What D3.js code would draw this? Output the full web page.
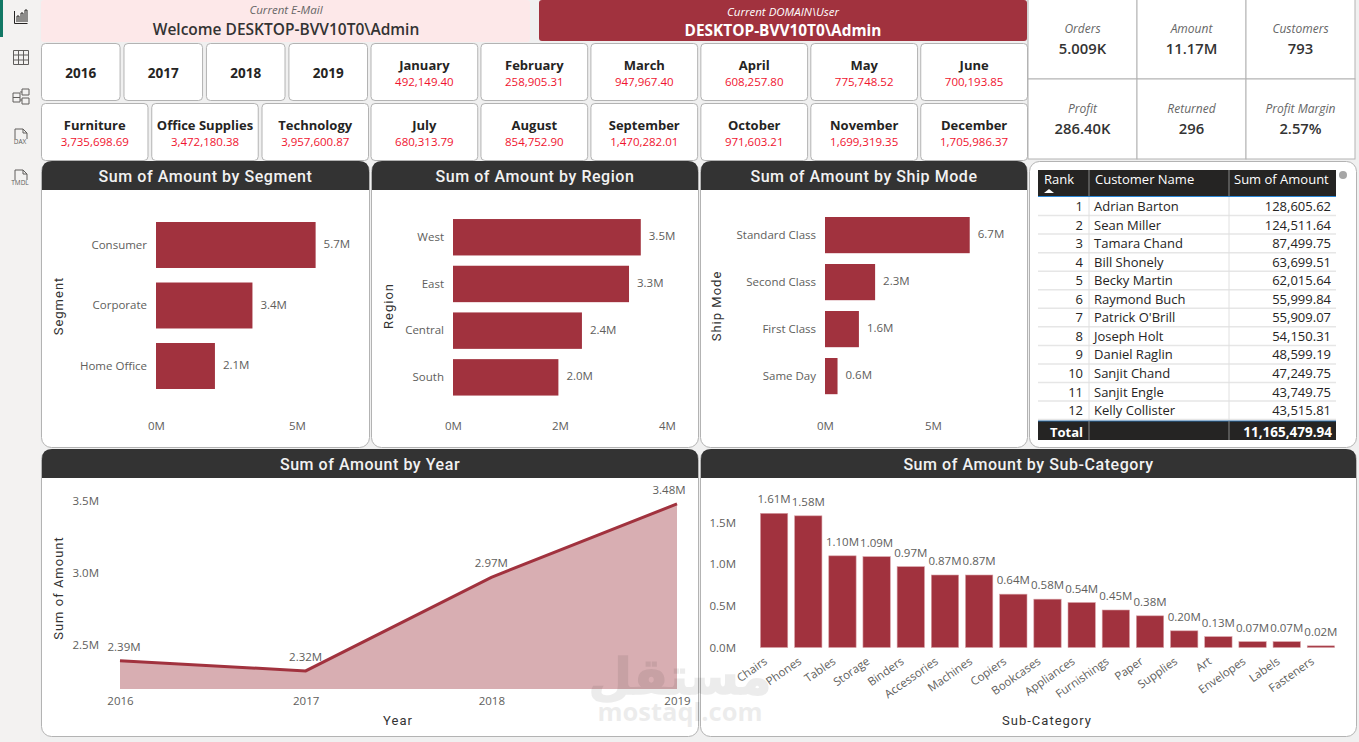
<!DOCTYPE html>
<html>
<head>
<meta charset="utf-8">
<script src="https://cdn.jsdelivr.net/npm/d3@7"></script>
<style>
  html, body { margin: 0; padding: 0; background: #f0f0f0; overflow: hidden; }
  text { font-family: "Open Sans", sans-serif; }
  .title { font-family: Roboto, sans-serif; font-weight: 500; letter-spacing: .55px; }
  .axis-title { font-family: Roboto, sans-serif; font-weight: 400; letter-spacing: 1px; }
</style>
</head>
<body>
<div id="viz"></div>
<script>
const years = ["2016", "2017", "2018", "2019"];
const categories = ["Furniture", "Office Supplies", "Technology"];
const categoryAmounts = ["3,735,698.69", "3,472,180.38", "3,957,600.87"];
const months = ["January", "February", "March", "April", "May", "June", "July", "August", "September", "October", "November", "December"];
const monthAmounts = ["492,149.40", "258,905.31", "947,967.40", "608,257.80", "775,748.52", "700,193.85", "680,313.79", "854,752.90", "1,470,282.01", "971,603.21", "1,699,319.35", "1,705,986.37"];
const kpiLabels = ["Orders", "Amount", "Customers", "Profit", "Returned", "Profit Margin"];
const kpiValues = ["5.009K", "11.17M", "793", "286.40K", "296", "2.57%"];

const segments = ["Consumer", "Corporate", "Home Office"];
const segmentValues = [5.66, 3.42, 2.09];
const regions = ["West", "East", "Central", "South"];
const regionValues = [3.51, 3.29, 2.41, 1.97];
const shipModes = ["Standard Class", "Second Class", "First Class", "Same Day"];
const shipValues = [6.7, 2.32, 1.57, 0.58];

const yearValues = [2.39, 2.32, 2.97, 3.48];
const subCategories = ["Chairs", "Phones", "Tables", "Storage", "Binders", "Accessories", "Machines", "Copiers", "Bookcases", "Appliances", "Furnishings", "Paper", "Supplies", "Art", "Envelopes", "Labels", "Fasteners"];
const subValues = [1.61, 1.58, 1.10, 1.09, 0.97, 0.87, 0.87, 0.64, 0.58, 0.54, 0.45, 0.38, 0.20, 0.13, 0.07, 0.07, 0.02];

const ranks = [1, 2, 3, 4, 5, 6, 7, 8, 9, 10, 11, 12];
const customers = ["Adrian Barton", "Sean Miller", "Tamara Chand", "Bill Shonely", "Becky Martin", "Raymond Buch", "Patrick O'Brill", "Joseph Holt", "Daniel Raglin", "Sanjit Chand", "Sanjit Engle", "Kelly Collister"];
const customerAmounts = ["128,605.62", "124,511.64", "87,499.75", "63,699.51", "62,015.64", "55,999.84", "55,909.07", "54,150.31", "48,599.19", "47,249.75", "43,749.75", "43,515.81"];
const tableTotal = "11,165,479.94";

const RED = "#a1323e", DARK = "#333333", GREY = "#605e5c", BORDER = "#b3b3b3";

const svg = d3.select("#viz").append("svg").attr("width", 1359).attr("height", 742);

// left rail
svg.append("rect").attr("width", 40).attr("height", 742).attr("fill", "#f3f2f1");
svg.append("rect").attr("width", 3).attr("height", 37).attr("fill", "#117865");
drawRailIcons();

// banner
svg.append("rect").attr("x", 41).attr("y", 0).attr("width", 489).attr("height", 42).attr("rx", 3).attr("fill", "#fde8e9");
svg.append("rect").attr("x", 539).attr("y", 0).attr("width", 488).attr("height", 41).attr("rx", 3).attr("fill", RED);
label(286, 14, "Current E-Mail", 11.5, "#666", "middle").attr("font-style", "italic");
label(286, 35, "Welcome DESKTOP-BVV10T0\\Admin", 15.5, "#333", "middle").attr("font-weight", 600);
label(783, 16, "Current DOMAIN\\User", 11.5, "#fff", "middle").attr("font-style", "italic");
label(783, 36, "DESKTOP-BVV10T0\\Admin", 15.4, "#fff", "middle").attr("font-weight", 700);

// slicer buttons
const yearX = d3.scaleBand().domain(years).range([41, 368]).paddingInner(0.035);
years.forEach(y => button(yearX(y), 43, yearX.bandwidth(), 58, y));
const catX = d3.scaleBand().domain(categories).range([41, 369]).paddingInner(0.025);
categories.forEach((c, i) => button(catX(c), 103, catX.bandwidth(), 58, c, categoryAmounts[i]));
const monthX = d3.scaleBand().domain(d3.range(6)).range([370.5, 1028]).paddingInner(0.02);
months.forEach((m, i) => button(monthX(i % 6), i < 6 ? 43 : 103, monthX.bandwidth(), 58, m, monthAmounts[i]));

// KPI cards
const kpiX = d3.scaleBand().domain(d3.range(3)).range([1028, 1355]);
kpiLabels.forEach((k, i) => {
  const x = kpiX(i % 3), y = i < 3 ? -1 : 79;
  svg.append("rect").attr("x", x).attr("y", y).attr("width", kpiX.bandwidth()).attr("height", 80)
    .attr("fill", "#fff").attr("stroke", BORDER);
  label(x + kpiX.bandwidth() / 2, y + 34, k, 12, "#666", "middle").attr("font-style", "italic");
  label(x + kpiX.bandwidth() / 2, y + 55, kpiValues[i], 14.8, "#333", "middle").attr("font-weight", 600);
});

// charts
hBars(41, 329, "Sum of Amount by Segment", "Segment", segments, segmentValues, d3.scaleLinear().domain([0, 5]).range([156, 297]), [0, 5], [214.75, 396.25], 59, 0.24);
hBars(371, 328, "Sum of Amount by Region", "Region", regions, regionValues, d3.scaleLinear().domain([0, 4]).range([453, 667]), [0, 2, 4], [213.9, 400.7], 389, 0.22);
hBars(700, 328, "Sum of Amount by Ship Mode", "Ship Mode", shipModes, shipValues, d3.scaleLinear().domain([0, 5]).range([825, 933]), [0, 5], [211.6, 399.6], 717, 0.23);
yearChart();
subChart();
customerTable();

// watermark
svg.append("text").attr("x", 680).attr("y", 694).attr("text-anchor", "middle")
  .style("font-family", "'DejaVu Sans'").attr("font-size", 50).attr("font-weight", 700)
  .attr("fill", "#000").attr("stroke", "#000").attr("stroke-width", 1.5).attr("opacity", 0.07).text("مستقل");
svg.append("text").attr("x", 680).attr("y", 721).attr("text-anchor", "middle")
  .style("font-family", "'Open Sans'").attr("font-size", 25.5).attr("font-weight", 700)
  .attr("fill", "#000").attr("opacity", 0.07).text("mostaql.com");

function label(x, y, t, size, fill, anchor) {
  return svg.append("text").attr("x", x).attr("y", y).attr("font-size", size)
    .attr("fill", fill).attr("text-anchor", anchor || "start").text(t);
}

function button(x, y, w, h, name, amount) {
  svg.append("rect").attr("x", x + .5).attr("y", y + .5).attr("width", w - 1).attr("height", h - 1)
    .attr("rx", 4).attr("fill", "#fff").attr("stroke", BORDER);
  const cx = x + w / 2;
  if (amount) {
    label(cx, y + 26.5, name, 13, "#252423", "middle").attr("font-weight", 700);
    label(cx, y + 43, amount, 11.5, "#f0142f", "middle");
  } else {
    label(cx, y + 35, name, 13.5, "#252423", "middle").attr("font-weight", 700);
  }
}

function panel(x, y, w, h, title) {
  svg.append("rect").attr("x", x + .5).attr("y", y + .5).attr("width", w - 1).attr("height", h - 1)
    .attr("rx", 10).attr("fill", "#fff").attr("stroke", BORDER);
  if (title) {
    svg.append("path").attr("fill", DARK)
      .attr("d", `M${x + 1},${y + 29}V${y + 10}Q${x + 1},${y} ${x + 11},${y}H${x + w - 11}Q${x + w - 1},${y} ${x + w - 1},${y + 10}V${y + 29}Z`);
    label(x + w / 2, y + 21, title, 16, "#f2f2f2", "middle").attr("class", "title");
  }
}

function axisTitle(x, y, t, rotate) {
  const s = label(x, y, t, 13, "#333", "middle").attr("class", "axis-title");
  if (rotate) s.attr("transform", `rotate(-90 ${x} ${y})`);
  return s;
}

function cleanAxis(g) {
  g.select(".domain").remove();
  g.selectAll(".tick line").remove();
  g.selectAll("text").attr("fill", GREY).attr("font-size", 11.5).style("font-family", "'Open Sans'");
}

function hBars(px, pw, title, yTitle, names, values, x, ticks, yRange, titleX, pad) {
  panel(px, 161, pw, 287, title);
  const y = d3.scaleBand().domain(names).range(yRange).paddingInner(pad).paddingOuter(pad / 2);
  const g = svg.append("g");
  g.selectAll("rect").data(values).enter().append("rect")
    .attr("x", x(0)).attr("y", (d, i) => y(names[i]))
    .attr("width", d => x(d) - x(0)).attr("height", y.bandwidth()).attr("fill", RED);
  g.selectAll("text").data(values).enter().append("text")
    .attr("x", d => x(d) + 8).attr("y", (d, i) => y(names[i]) + y.bandwidth() / 2 + 3)
    .attr("font-size", 11.5).attr("fill", GREY).text(d => d3.format(".1f")(d) + "M");
  svg.append("g").attr("transform", `translate(${x(0) - 9},0)`)
    .call(d3.axisLeft(y).tickSize(0).tickPadding(0)).call(cleanAxis);
  svg.append("g").attr("transform", "translate(0,419)")
    .call(d3.axisBottom(x).tickValues(ticks).tickSize(0).tickFormat(d => d + "M")).call(cleanAxis);
  axisTitle(titleX + 4, 306, yTitle, true);
}

function yearChart() {
  panel(41, 449, 658, 288, "Sum of Amount by Year");
  const x = d3.scalePoint().domain(years).range([120, 677]);
  const y = d3.scaleLinear().domain([2.5, 3.5]).range([645, 501]);
  const base = 689;
  svg.append("path").datum(yearValues).attr("fill", "#d8aeb2")
    .attr("d", d3.area().x((d, i) => x(years[i])).y0(base).y1(d => y(d)));
  svg.append("path").datum(yearValues).attr("fill", "none").attr("stroke", RED).attr("stroke-width", 3)
    .attr("d", d3.line().x((d, i) => x(years[i])).y(d => y(d)));
  svg.selectAll(".yl").data(yearValues).enter().append("text").attr("class", "yl")
    .attr("x", (d, i) => x(years[i]) + (i === 3 ? -8 : i === 0 ? 4 : 0)).attr("y", d => y(d) - 10)
    .attr("text-anchor", "middle").attr("font-size", 11.5).attr("fill", GREY)
    .text(d => d3.format(".2f")(d) + "M");
  svg.append("g").attr("transform", "translate(99,0)")
    .call(d3.axisLeft(y).tickValues([2.5, 3, 3.5]).tickSize(0).tickPadding(0).tickFormat(d => d3.format(".1f")(d) + "M")).call(cleanAxis);
  svg.append("g").attr("transform", "translate(0,695)")
    .call(d3.axisBottom(x).tickSize(0).tickPadding(2)).call(cleanAxis);
  axisTitle(398, 725, "Year");
  axisTitle(63, 588, "Sum of Amount", true);
}

function subChart() {
  panel(700, 449, 657, 288, "Sum of Amount by Sub-Category");
  const x = d3.scaleBand().domain(subCategories).range([757, 1338]).paddingInner(0.2).paddingOuter(0.1);
  const y = d3.scaleLinear().domain([0, 1.5]).range([647.5, 522.5]);
  svg.selectAll(".sb").data(subValues).enter().append("rect").attr("class", "sb")
    .attr("x", (d, i) => x(subCategories[i])).attr("y", d => y(d))
    .attr("width", x.bandwidth()).attr("height", d => y(0) - y(d))
    .attr("fill", RED).attr("stroke", "#d8a0a6").attr("stroke-width", .6);
  svg.selectAll(".sl").data(subValues).enter().append("text").attr("class", "sl")
    .attr("x", (d, i) => x(subCategories[i]) + x.bandwidth() / 2).attr("y", d => y(d) - 10)
    .attr("text-anchor", "middle").attr("font-size", 11.5).attr("fill", GREY)
    .text(d => d3.format(".2f")(d) + "M");
  svg.append("g").attr("transform", "translate(736,0)")
    .call(d3.axisLeft(y).tickValues([0, 0.5, 1, 1.5]).tickSize(0).tickPadding(0).tickFormat(d => d3.format(".1f")(d) + "M")).call(cleanAxis);
  svg.append("g").selectAll("text").data(subCategories).enter().append("text")
    .attr("transform", d => `translate(${x(d) + x.bandwidth() / 2 - 6},${663}) rotate(-35)`)
    .attr("text-anchor", "end").attr("font-size", 11.5).attr("fill", GREY).text(d => d);
  axisTitle(1047, 725, "Sub-Category");
}

function customerTable() {
  panel(1029, 161, 328, 287);
  const cols = [1038, 1089, 1229, 1336];
  svg.append("rect").attr("x", 1038).attr("y", 170).attr("width", 298).attr("height", 26).attr("fill", "#252423");
  svg.append("rect").attr("x", 1038).attr("y", 196).attr("width", 298).attr("height", 1).attr("fill", "#2b88d8");
  label(1044, 184, "Rank", 13, "#fff");
  svg.append("path").attr("d", "M1044,193l5,-4l5,4z").attr("fill", "#fff");
  label(1095, 184, "Customer Name", 13, "#fff");
  label(1234, 184, "Sum of Amount", 13, "#fff");
  const rowY = d3.scaleBand().domain(ranks).range([197, 419.6]);
  ranks.forEach((r, i) => {
    const top = rowY(r);
    svg.append("line").attr("x1", 1038).attr("x2", 1336).attr("y1", top + rowY.bandwidth()).attr("y2", top + rowY.bandwidth())
      .attr("stroke", "#e6e6e6").attr("stroke-width", 1.5);
    label(1083, top + 14, r, 13, "#252423", "end");
    label(1094, top + 14, customers[i], 13, "#252423");
    label(1331, top + 14, customerAmounts[i], 13, "#252423", "end");
  });
  cols.slice(1, 3).forEach(c => {
    svg.append("line").attr("x1", c).attr("x2", c).attr("y1", 197).attr("y2", 421).attr("stroke", "#e0e0e0");
  });
  svg.append("rect").attr("x", 1038).attr("y", 421).attr("width", 298).attr("height", 19).attr("fill", "#252423");
  svg.append("rect").attr("x", 1038).attr("y", 420.5).attr("width", 298).attr("height", 1).attr("fill", "#2b6ca8");
  cols.slice(1, 3).forEach(c => {
    svg.append("line").attr("x1", c).attr("x2", c).attr("y1", 170).attr("y2", 196).attr("stroke", "#888");
    svg.append("line").attr("x1", c).attr("x2", c).attr("y1", 421).attr("y2", 440).attr("stroke", "#888");
  });
  label(1083, 437, "Total", 13, "#fff", "end").attr("font-weight", 700);
  label(1332, 437, tableTotal, 13.5, "#fff", "end").attr("font-weight", 700);
  svg.append("circle").attr("cx", 1343).attr("cy", 175).attr("r", 4).attr("fill", "#a6a6a6");
}

function drawRailIcons() {
  const g = svg.append("g").attr("fill", "none").attr("stroke", "#605e5c").attr("stroke-width", 1);
  // report
  g.append("path").attr("stroke", "#252423").attr("d", "M14.5,11V23.5H27.5M17,22V16H19V22M21,22V13H23V22M25,22V10H27V22");
  // table
  g.append("path").attr("d", "M13.5,50.5H28.5V64.5H13.5ZM13.5,55H28.5M13.5,60H28.5M18.5,50.5V64.5M23.5,50.5V64.5");
  // model
  g.append("path").attr("d", "M13,93H20V102H13ZM22,89H29V95H22ZM22,98H29V104H22ZM13,97.5H20M20,92H22M20,100H22");
  // DAX and TMDL file icons
  [129, 170].forEach((y, i) => {
    g.append("path").attr("d", `M15,${y + 10}V${y}H23L27,${y + 4}V${y + 10}M23,${y}V${y + 4}H27`);
    svg.append("text").attr("x", 20).attr("y", y + 15).attr("text-anchor", "middle")
      .attr("font-size", 6.5).attr("fill", "#605e5c").text(i ? "TMDL" : "DAX");
  });
}
</script>
</body>
</html>
